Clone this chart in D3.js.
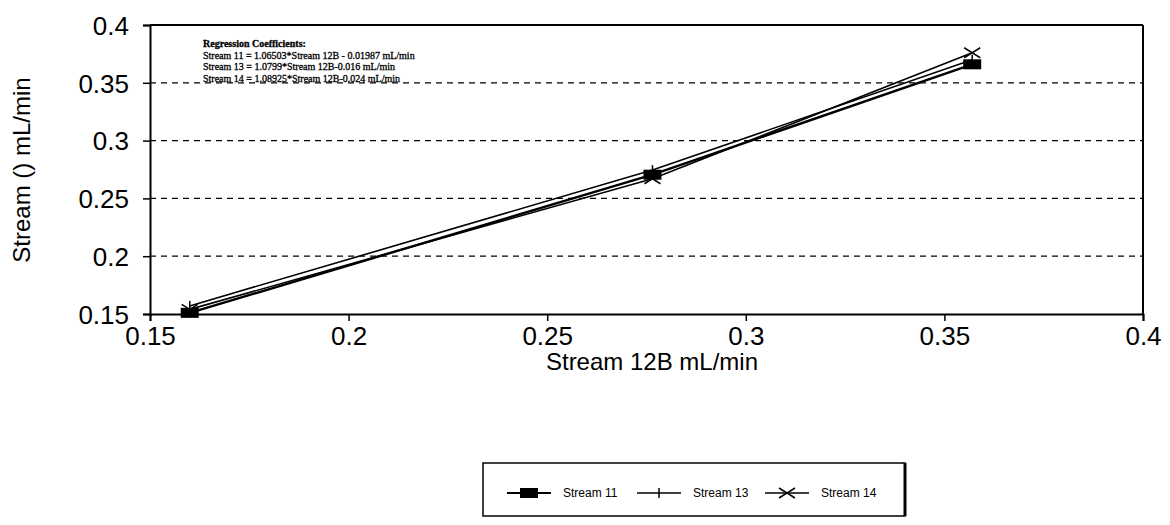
<!DOCTYPE html>
<html><head><meta charset="utf-8">
<script src="https://cdn.jsdelivr.net/npm/d3@7"></script>
<style>
body{margin:0;background:#fff;}
svg{display:block;}
text{font-family:"Liberation Sans",Arial,sans-serif;fill:#000;}
</style></head>
<body>
<svg id="c" width="1170" height="525"></svg>
<script>
// Data
const xValues = [0.16, 0.2765, 0.357];
const stream11 = [0.151, 0.2705, 0.366];
const stream13 = [0.157, 0.2745, 0.370];
const stream14 = [0.154, 0.267, 0.376];
const xTicks = [0.15, 0.2, 0.25, 0.3, 0.35, 0.4];
const yTicks = [0.15, 0.2, 0.25, 0.3, 0.35, 0.4];
const gridTicks = [0.2, 0.25, 0.3, 0.35];
const seriesNames = ["Stream 11", "Stream 13", "Stream 14"];
const annotation = [
  "Regression Coefficients:",
  "Stream 11 = 1.06503*Stream 12B - 0.01987 mL/min",
  "Stream 13 = 1.0799*Stream 12B-0.016 mL/min",
  "Stream 14 = 1.08925*Stream 12B-0.024 mL/min"
];

const svg = d3.select("#c");
const L = 150, R = 1143, T = 25, B = 314;
const x = d3.scaleLinear().domain([0.15, 0.4]).range([L, R]);
const y = d3.scaleLinear().domain([0.15, 0.4]).range([B, T]);

// gridlines
svg.append("g").selectAll("line").data(gridTicks).join("line")
  .attr("x1", L).attr("x2", R)
  .attr("y1", d => y(d)).attr("y2", d => y(d))
  .attr("stroke", "#000").attr("stroke-width", 1.3).attr("stroke-dasharray", "6,5");

// frame top/right
svg.append("line").attr("x1", L).attr("x2", R).attr("y1", T).attr("y2", T).attr("stroke", "#000").attr("stroke-width", 2);
svg.append("line").attr("x1", R).attr("x2", R).attr("y1", T).attr("y2", B).attr("stroke", "#000").attr("stroke-width", 2);

// axes
const xAxis = d3.axisBottom(x).tickValues(xTicks).tickFormat(d3.format("")).tickSize(7).tickPadding(6);
const gx = svg.append("g").attr("transform", `translate(0,${B})`).call(xAxis);
gx.select(".domain").attr("stroke-width", 2);
gx.selectAll(".tick line").attr("stroke-width", 1.5);
gx.selectAll("text").style("font-size", "26px");

const yAxis = d3.axisLeft(y).tickValues(yTicks).tickFormat(d3.format("")).tickSize(7).tickPadding(14);
const gy = svg.append("g").attr("transform", `translate(${L},0)`).call(yAxis);
gy.select(".domain").attr("stroke-width", 2);
gy.selectAll(".tick line").attr("stroke-width", 1.5);
gy.selectAll("text").style("font-size", "26px").attr("dy", "0.36em");

// axis titles
svg.append("text").attr("x", 652).attr("y", 370).attr("text-anchor", "middle")
  .style("font-size", "24px").text("Stream 12B mL/min");
svg.append("text").attr("transform", "translate(30,170) rotate(-90)").attr("text-anchor", "middle")
  .style("font-size", "24px").text("Stream () mL/min");

// series lines
const line = d3.line().x(d => x(d[0])).y(d => y(d[1]));
const mk = arr => xValues.map((v, i) => [v, arr[i]]);
const data = [mk(stream11), mk(stream13), mk(stream14)];
const widths = [2.4, 1.6, 1.6];
data.forEach((d, i) => {
  svg.append("path").datum(d).attr("d", line).attr("fill", "none")
    .attr("stroke", "#000").attr("stroke-width", widths[i]);
});

function drawMarker(g, type, cx, cy) {
  if (type === 0) {
    g.append("rect").attr("x", cx - 9).attr("y", cy - 5).attr("width", 18).attr("height", 10).attr("fill", "#000");
  } else if (type === 1) {
    g.append("line").attr("x1", cx).attr("x2", cx).attr("y1", cy - 5).attr("y2", cy + 5).attr("stroke", "#000").attr("stroke-width", 1.5);
  } else {
    g.append("path").attr("d", `M${cx-8},${cy-5}L${cx},${cy}L${cx-8},${cy+5}M${cx+8},${cy-5}L${cx},${cy}L${cx+8},${cy+5}`)
      .attr("fill", "none").attr("stroke", "#000").attr("stroke-width", 1.5);
  }
}
const mg = svg.append("g");
data.forEach((d, i) => d.forEach(p => drawMarker(mg, i, x(p[0]), y(p[1]))));

// annotation
const ag = svg.append("g");
annotation.forEach((t, i) => {
  ag.append("text").attr("x", 203).attr("y", 47 + i * 11.5)
    .style("font-family", "'Liberation Serif','Times New Roman',serif")
    .style("font-size", "10px").style("font-weight", i === 0 ? "bold" : "normal")
    .attr("stroke", "#000").attr("stroke-width", 0.3).text(t);
});

// legend
const lg = svg.append("g");
lg.append("rect").attr("x", 483).attr("y", 463).attr("width", 422).attr("height", 53)
  .attr("fill", "#fff").attr("stroke", "#000").attr("stroke-width", 1.5);
lg.append("line").attr("x1", 905).attr("x2", 905).attr("y1", 463).attr("y2", 516).attr("stroke", "#000").attr("stroke-width", 3);
const legX = [507, 637, 765];
seriesNames.forEach((n, i) => {
  const x0 = legX[i], cy = 493;
  lg.append("line").attr("x1", x0).attr("x2", x0 + 44).attr("y1", cy).attr("y2", cy)
    .attr("stroke", "#000").attr("stroke-width", i === 0 ? 2 : 1.3);
  drawMarker(lg, i, x0 + 22, cy);
  lg.append("text").attr("x", x0 + 56).attr("y", cy + 4).style("font-size", "12px").text(n);
});
</script>
</body></html>
